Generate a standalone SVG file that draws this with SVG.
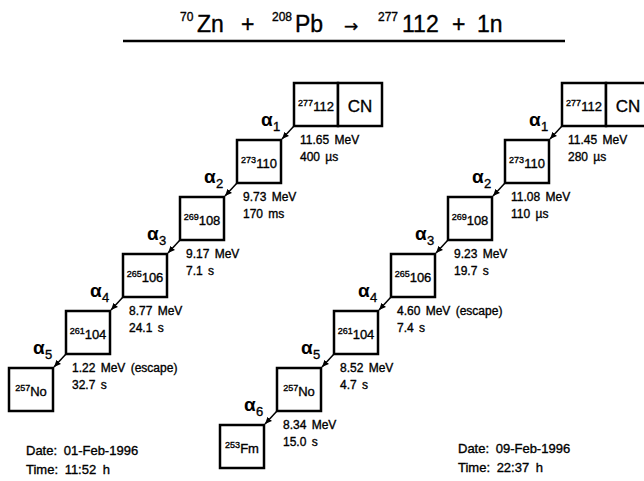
<svg xmlns="http://www.w3.org/2000/svg" width="644" height="481" viewBox="0 0 644 481">
<style>
text{font-family:"Liberation Sans",Arial,sans-serif;fill:#000;stroke:#000;stroke-width:0.35}
.box{fill:#fff;stroke:#000;stroke-width:2.5}
.lbl{font-size:13px;text-anchor:middle}
.sup{font-size:9px}
.cn{font-size:17px;text-anchor:middle}
.al{font-size:19px;font-weight:bold;stroke-width:0}
.as{font-size:13px}
.en{font-size:12px;word-spacing:2px}
.dt{font-size:13px;word-spacing:3px}
.ti{font-size:23px}
.ts{font-size:12px}
.conn{stroke:#000;stroke-width:1.5;fill:none}
</style>
<defs>
<marker id="ah" markerWidth="8" markerHeight="8" refX="7" refY="4" orient="auto" markerUnits="userSpaceOnUse">
<path d="M0,1 L7,4 L0,7 Z" fill="#000"/>
</marker>
</defs>
<g id="title">
<text class="ts" x="180" y="21">70</text><text class="ti" x="197" y="32">Zn</text>
<text class="ti" x="241" y="32">+</text>
<text class="ts" x="272" y="21">208</text><text class="ti" x="295" y="32">Pb</text>
<text class="ti" x="344" y="32" style="font-family:'DejaVu Sans',sans-serif;font-size:17px">→</text>
<text class="ts" x="378" y="21">277</text><text class="ti" x="402" y="32">112</text>
<text class="ti" x="452" y="32">+</text>
<text class="ti" x="477" y="32">1n</text>
<line x1="123" y1="41" x2="565" y2="41" stroke="#000" stroke-width="2.5"/>
</g>
<g id="connectors">
<line class="conn" x1="294" y1="126" x2="282" y2="139" marker-end="url(#ah)"/>
<line class="conn" x1="237" y1="183" x2="225" y2="196" marker-end="url(#ah)"/>
<line class="conn" x1="180" y1="240" x2="168" y2="253" marker-end="url(#ah)"/>
<line class="conn" x1="123" y1="297" x2="111" y2="310" marker-end="url(#ah)"/>
<line class="conn" x1="66" y1="354" x2="54" y2="367" marker-end="url(#ah)"/>
<line class="conn" x1="562" y1="126" x2="550" y2="139" marker-end="url(#ah)"/>
<line class="conn" x1="505" y1="183" x2="493" y2="196" marker-end="url(#ah)"/>
<line class="conn" x1="448" y1="240" x2="436" y2="253" marker-end="url(#ah)"/>
<line class="conn" x1="391" y1="297" x2="379" y2="310" marker-end="url(#ah)"/>
<line class="conn" x1="334" y1="354" x2="322" y2="367" marker-end="url(#ah)"/>
<line class="conn" x1="277" y1="411" x2="265" y2="424" marker-end="url(#ah)"/>
</g>
<!-- left chain -->
<g id="L0">
<rect class="box" x="294" y="83" width="44" height="43"/><rect class="box" x="338" y="83" width="44" height="43"/>
<text class="lbl" x="316" y="111"><tspan class="sup" dy="-5">277</tspan><tspan dy="5">112</tspan></text>
<text class="cn" x="360" y="112">CN</text>
</g>
<g id="L1"><rect class="box" x="237" y="140" width="44" height="43"/>
<text class="lbl" x="259" y="168"><tspan class="sup" dy="-5">273</tspan><tspan dy="5">110</tspan></text></g>
<g id="L2"><rect class="box" x="180" y="197" width="44" height="43"/>
<text class="lbl" x="202" y="225"><tspan class="sup" dy="-5">269</tspan><tspan dy="5">108</tspan></text></g>
<g id="L3"><rect class="box" x="123" y="254" width="44" height="43"/>
<text class="lbl" x="145" y="282"><tspan class="sup" dy="-5">265</tspan><tspan dy="5">106</tspan></text></g>
<g id="L4"><rect class="box" x="66" y="311" width="44" height="43"/>
<text class="lbl" x="88" y="339"><tspan class="sup" dy="-5">261</tspan><tspan dy="5">104</tspan></text></g>
<g id="L5"><rect class="box" x="9" y="368" width="44" height="43"/>
<text class="lbl" x="31" y="396"><tspan class="sup" dy="-5">257</tspan><tspan dy="5">No</tspan></text></g>
<g id="L-labels">
<text class="al" x="261" y="126">α</text><text class="as" x="273" y="131">1</text>
<text class="en" x="300" y="144">11.65 MeV</text><text class="en" x="300" y="161">400 µs</text>
<text class="al" x="204" y="183">α</text><text class="as" x="216" y="188">2</text>
<text class="en" x="243" y="201">9.73 MeV</text><text class="en" x="243" y="218">170 ms</text>
<text class="al" x="147" y="240">α</text><text class="as" x="159" y="245">3</text>
<text class="en" x="186" y="258">9.17 MeV</text><text class="en" x="186" y="275">7.1 s</text>
<text class="al" x="90" y="297">α</text><text class="as" x="102" y="302">4</text>
<text class="en" x="129" y="315">8.77 MeV</text><text class="en" x="129" y="332">24.1 s</text>
<text class="al" x="33" y="354">α</text><text class="as" x="45" y="359">5</text>
<text class="en" x="72" y="372">1.22 MeV (escape)</text><text class="en" x="72" y="389">32.7 s</text>
<text class="dt" x="26" y="455">Date: 01-Feb-1996</text>
<text class="dt" x="26" y="474">Time: 11:52 h</text>
</g>
<!-- right chain -->
<g id="R0">
<rect class="box" x="562" y="83" width="44" height="43"/><rect class="box" x="606" y="83" width="44" height="43"/>
<text class="lbl" x="584" y="111"><tspan class="sup" dy="-5">277</tspan><tspan dy="5">112</tspan></text>
<text class="cn" x="628" y="112">CN</text>
</g>
<g id="R1"><rect class="box" x="505" y="140" width="44" height="43"/>
<text class="lbl" x="527" y="168"><tspan class="sup" dy="-5">273</tspan><tspan dy="5">110</tspan></text></g>
<g id="R2"><rect class="box" x="448" y="197" width="44" height="43"/>
<text class="lbl" x="470" y="225"><tspan class="sup" dy="-5">269</tspan><tspan dy="5">108</tspan></text></g>
<g id="R3"><rect class="box" x="391" y="254" width="44" height="43"/>
<text class="lbl" x="413" y="282"><tspan class="sup" dy="-5">265</tspan><tspan dy="5">106</tspan></text></g>
<g id="R4"><rect class="box" x="334" y="311" width="44" height="43"/>
<text class="lbl" x="356" y="339"><tspan class="sup" dy="-5">261</tspan><tspan dy="5">104</tspan></text></g>
<g id="R5"><rect class="box" x="277" y="368" width="44" height="43"/>
<text class="lbl" x="299" y="396"><tspan class="sup" dy="-5">257</tspan><tspan dy="5">No</tspan></text></g>
<g id="R6"><rect class="box" x="220" y="425" width="44" height="43"/>
<text class="lbl" x="242" y="453"><tspan class="sup" dy="-5">253</tspan><tspan dy="5">Fm</tspan></text></g>
<g id="R-labels">
<text class="al" x="529" y="126">α</text><text class="as" x="541" y="131">1</text>
<text class="en" x="568" y="144">11.45 MeV</text><text class="en" x="568" y="161">280 µs</text>
<text class="al" x="472" y="183">α</text><text class="as" x="484" y="188">2</text>
<text class="en" x="511" y="201">11.08 MeV</text><text class="en" x="511" y="218">110 µs</text>
<text class="al" x="415" y="240">α</text><text class="as" x="427" y="245">3</text>
<text class="en" x="454" y="258">9.23 MeV</text><text class="en" x="454" y="275">19.7 s</text>
<text class="al" x="358" y="297">α</text><text class="as" x="370" y="302">4</text>
<text class="en" x="397" y="315">4.60 MeV (escape)</text><text class="en" x="397" y="332">7.4 s</text>
<text class="al" x="301" y="354">α</text><text class="as" x="313" y="359">5</text>
<text class="en" x="340" y="372">8.52 MeV</text><text class="en" x="340" y="389">4.7 s</text>
<text class="al" x="244" y="411">α</text><text class="as" x="256" y="416">6</text>
<text class="en" x="283" y="429">8.34 MeV</text><text class="en" x="283" y="446">15.0 s</text>
<text class="dt" x="458" y="453">Date: 09-Feb-1996</text>
<text class="dt" x="458" y="472">Time: 22:37 h</text>
</g>
</svg>
